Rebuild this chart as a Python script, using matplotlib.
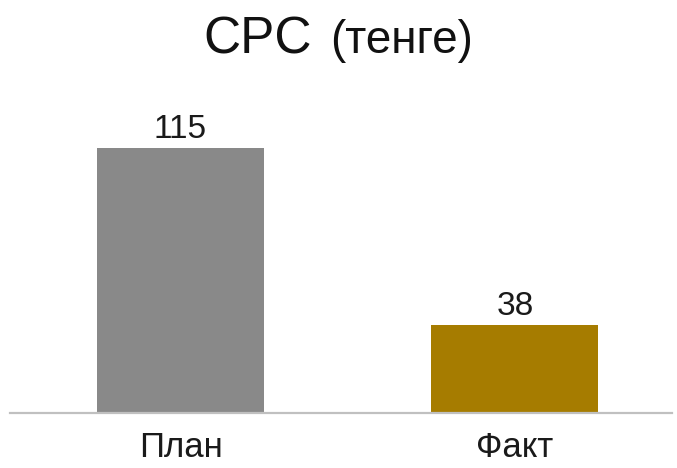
import matplotlib
matplotlib.use('Agg')
import matplotlib.pyplot as plt

categories = ['План', 'Факт']
values = [115, 38]
colors = ['#898989', '#A67C00']

plt.rcParams['font.family'] = ['Liberation Sans', 'DejaVu Sans']

fig = plt.figure(figsize=(6.77, 4.68), dpi=100)
ax = fig.add_axes([10 / 677, 55 / 468, 662 / 677, 300 / 468])

# пикселей на единицу значения
scale = 265 / 115

x = list(range(len(categories)))
bars = ax.bar(x, values, width=0.5, color=colors)
for b, v in zip(bars, values):
    ax.text(b.get_x() + b.get_width() / 2, v + 10 / scale, str(v), ha='center', va='baseline',
            fontsize=24, color='#1a1a1a')

ax.set_xlim(-0.51, 1.47)
ax.set_ylim(0, 300 / scale)
ax.set_xticks(x)
ax.set_xticklabels(categories, fontsize=25, color='#1a1a1a')
ax.tick_params(axis='x', length=0, pad=13)
ax.set_yticks([])
for s in ['top', 'right', 'left']:
    ax.spines[s].set_visible(False)
ax.spines['bottom'].set_color('#c0c0c0')
ax.spines['bottom'].set_linewidth(1.6)

fig.text(203 / 677, 1 - 53 / 468, 'CPC', fontsize=37, ha='left', va='baseline', color='#111111')
fig.text(330 / 677, 1 - 53 / 468, '(тенге)', fontsize=33, ha='left', va='baseline', color='#111111')

fig.savefig('out.png', dpi=100)
